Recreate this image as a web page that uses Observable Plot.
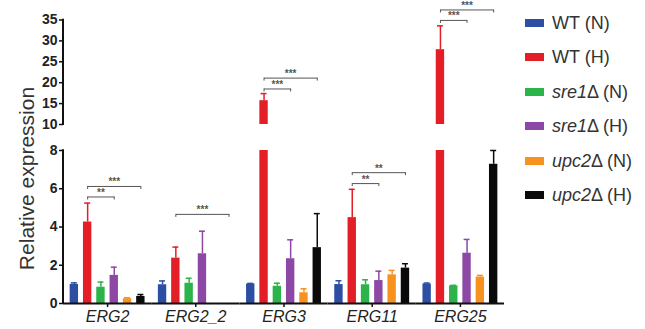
<!DOCTYPE html>
<html><head><meta charset="utf-8">
<script src="https://cdn.jsdelivr.net/npm/d3@7"></script>
<script src="https://cdn.jsdelivr.net/npm/@observablehq/plot@0.6"></script>
<style>
body{margin:0;background:#fff;font-family:"Liberation Sans",Arial,sans-serif;}
#wrap{position:relative;width:645px;height:329px;overflow:hidden;}
#legend{position:absolute;left:525px;top:0;width:120px;height:329px;}
.item{position:absolute;left:0;height:22px;white-space:nowrap;font-size:18px;color:#333;line-height:22px;}
.sw{display:inline-block;width:19px;height:8px;vertical-align:middle;margin-right:8px;position:relative;top:-1px;}
</style></head><body>
<div id="wrap"><div id="chart"></div><div id="legend"></div></div>
<script>
const genes = ["ERG2", "ERG2_2", "ERG3", "ERG11", "ERG25"];
const conditions = ["WT (N)", "WT (H)", "sre1Δ (N)", "sre1Δ (H)", "upc2Δ (N)", "upc2Δ (H)"];
const legendHtml = ["WT (N)", "WT (H)", "<i>sre1</i>Δ (N)", "<i>sre1</i>Δ (H)", "<i>upc2</i>Δ (N)", "<i>upc2</i>Δ (H)"];
const colors = ["#2c4fa3", "#e41e26", "#2cb34a", "#8c48a4", "#f7921e", "#0a0a0a"];

// mean values per condition, one entry per gene (null = not measured)
const wtN   = [1.0, 0.98, 1.02, 0.99, 1.02];
const wtH   = [4.26, 2.37, 15.7, 4.49, 27.9];
const sre1N = [0.85, 1.06, 0.9, 0.98, 0.92];
const sre1H = [1.47, 2.6, 2.34, 1.2, 2.63];
const upc2N = [0.25, null, 0.56, 1.5, 1.38];
const upc2H = [0.37, null, 2.92, 1.85, 7.28];
// error (SD) per condition
const wtNsd   = [0.08, 0.2, 0.03, 0.2, 0.05];
const wtHsd   = [0.99, 0.58, 1.7, 1.48, 5.7];
const sre1Nsd = [0.27, 0.26, 0.16, 0.26, 0.03];
const sre1Hsd = [0.43, 1.18, 0.99, 0.49, 0.72];
const upc2Nsd = [0.05, null, 0.21, 0.23, 0.09];
const upc2Hsd = [0.1, null, 1.78, 0.23, 0.72];

const series = [wtN, wtH, sre1N, sre1H, upc2N, upc2H];
const sds = [wtNsd, wtHsd, sre1Nsd, sre1Hsd, upc2Nsd, upc2Hsd];

// significance brackets
const brGene  = ["ERG2", "ERG2", "ERG2_2", "ERG3", "ERG3", "ERG11", "ERG11", "ERG25", "ERG25"];
const brFrom  = [1, 1, 1, 1, 1, 1, 1, 1, 1];
const brTo    = [3, 5, 5, 3, 5, 3, 5, 3, 5];
const brY     = [5.57, 6.12, 4.66, 18.5, 21.1, 6.27, 6.84, 34.9, 37.4];
const brLabel = ["**", "***", "***", "***", "***", "**", "**", "***", "***"];

const lowTicks = [0, 2, 4, 6, 8];
const highTicks = [10, 15, 20, 25, 30, 35];
const breakLow = 8, breakHigh = 10;

const rows = genes.flatMap((g, gi) => conditions.map((c, ci) => ({
  gene: g, cond: c, value: series[ci][gi], sd: sds[ci][gi]
}))).filter(d => d.value != null);

const brackets = brGene.map((g, i) => ({
  gene: g, from: conditions[brFrom[i]], to: conditions[brTo[i]],
  mid: conditions[(brFrom[i] + brTo[i]) / 2], y: brY[i], label: brLabel[i]
}));
const bracketEnds = brackets.flatMap(b => [{gene: b.gene, x: b.from, y: b.y}, {gene: b.gene, x: b.to, y: b.y}]);

const axisOpts = {tickSize: 4, tickPadding: 2, fontSize: 14, fontWeight: "bold", fill: "#222", stroke: "#111", strokeWidth: 1.5, label: null, facetAnchor: "left"};

const plot = Plot.plot({
  width: 645, height: 329,
  marginLeft: 63, marginRight: 141, marginTop: 53, marginBottom: 26,
  style: {fontFamily: "'Liberation Sans', Arial, sans-serif", background: "white", overflow: "visible"},
  fx: {domain: genes, padding: 0, round: false},
  x: {domain: conditions, paddingInner: 0.37, paddingOuter: 0.5, axis: null, round: false},
  y: {type: "linear", domain: [0, breakLow, breakHigh, 35], range: [303, 150, 124, 19.5]},
  color: {domain: conditions, range: colors},
  marks: [
    Plot.barY(rows, {fx: "gene", x: "cond", y1: 0, y2: d => Math.min(d.value, breakLow), fill: "cond"}),
    Plot.barY(rows.filter(d => d.value > breakHigh), {fx: "gene", x: "cond", y1: breakHigh, y2: "value", fill: "cond"}),
    Plot.ruleX(rows, {fx: "gene", x: "cond", y1: "value", y2: d => d.value + d.sd, stroke: "cond", strokeWidth: 1.5}),
    Plot.tickY(rows, {fx: "gene", x: "cond", y: d => d.value + d.sd, stroke: "cond", strokeWidth: 1.5, insetLeft: 1.2, insetRight: 1.2}),
    Plot.ruleY([0], {stroke: "#111", strokeWidth: 2}),
    Plot.link(brackets, {fx: "gene", x1: "from", x2: "to", y1: "y", y2: "y", stroke: "#555", strokeWidth: 1}),
    Plot.ruleX(bracketEnds, {fx: "gene", x: "x", y1: "y", y2: "y", insetBottom: -3, stroke: "#555", strokeWidth: 1}),
    Plot.text(brackets, {fx: "gene", x: "mid", y: "y", text: "label", dy: -1, lineAnchor: "bottom", fontSize: 10, fontWeight: "bold", fill: "#555", letterSpacing: "1px"}),
    Plot.axisY({...axisOpts, ticks: lowTicks}),
    Plot.axisY({...axisOpts, ticks: highTicks}),
    Plot.axisFx({anchor: "bottom", tickSize: 4, tickPadding: 3, fontSize: 16, fontStyle: "italic", fill: "#222", stroke: "#111", strokeWidth: 1.5, label: null}),
    Plot.text(["Relative expression"], {text: d => d, frameAnchor: "left", facetAnchor: "left", textAnchor: "middle", rotate: -90, dx: -36, fontSize: 21, fill: "#333"})
  ]
});

// broken y-axis lines, placed with the plot's own scales
const ys = plot.scale("y");
const x0 = plot.scale("fx").range[0];
d3.select(plot).append("g")
  .selectAll("line").data([[0, breakLow], [breakHigh, 35]]).join("line")
  .attr("x1", x0).attr("x2", x0)
  .attr("y1", d => ys.apply(d[0]) + 1).attr("y2", d => ys.apply(d[1]) - 0.75)
  .attr("stroke", "#111").attr("stroke-width", 2);

document.getElementById("chart").appendChild(plot);

const legend = d3.select("#legend");
legendHtml.forEach((t, i) => {
  legend.append("div").attr("class", "item")
    .style("top", (11.7 + i * 34.5) + "px")
    .html(`<span class="sw" style="background:${colors[i]}"></span>${t}`);
});
</script>
</body></html>
